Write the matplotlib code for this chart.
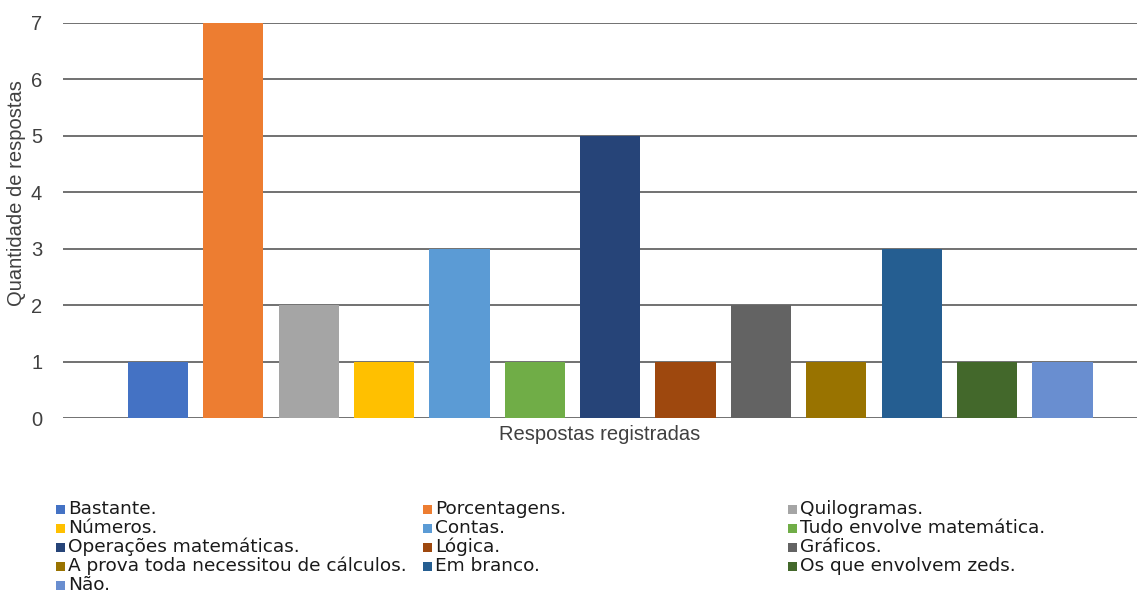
import matplotlib
matplotlib.use("Agg")
import matplotlib.pyplot as plt
from matplotlib.patches import Rectangle

categories = ["Bastante.", "Porcentagens.", "Quilogramas.", "Números.", "Contas.",
              "Tudo envolve matemática.", "Operações matemáticas.", "Lógica.", "Gráficos.",
              "A prova toda necessitou de cálculos.", "Em branco.", "Os que envolvem zeds.", "Não."]
values = [1, 7, 2, 1, 3, 1, 5, 1, 2, 1, 3, 1, 1]
colors = ["#4472C4", "#ED7D31", "#A5A5A5", "#FFC000", "#5B9BD5", "#70AD47", "#264478",
          "#9E480E", "#636363", "#997300", "#255E91", "#43682B", "#698ED0"]
yticks = [0, 1, 2, 3, 4, 5, 6, 7]

plt.rcParams['font.family'] = ['Liberation Sans', 'DejaVu Sans']

W, H = 1139, 605
fig = plt.figure(figsize=(W / 100, H / 100), dpi=100)
ax = fig.add_axes([63 / W, 1 - 418 / H, (1137 - 63) / W, (418 - 23) / H])

x = list(range(len(values)))
ax.bar(x, values, width=0.8, color=colors, zorder=3)

ax.set_ylim(0, 7)
ax.set_xlim(-1.26, 12.99)
ax.set_yticks(yticks)
ax.set_xticks([])
ax.yaxis.grid(True, color="#4a4a4a", linewidth=1.1, zorder=0)
for s in ax.spines.values():
    s.set_visible(False)
ax.tick_params(axis='y', length=0, labelsize=14.5, labelcolor="#404040", pad=15)
ax.set_ylabel("Quantidade de respostas", fontsize=14.5, color="#404040")
ax.yaxis.set_label_coords(-0.034, 0.57)
ax.set_xlabel("Respostas registradas", fontsize=14.5, color="#404040", labelpad=5)

# Legend: three columns filled row by row (Excel style)
col_x = [56, 423, 788]
row_y0, row_dy = 509, 19
msize = 9
for i, (lab, col) in enumerate(zip(categories, colors)):
    r, c = divmod(i, 3)
    xm = col_x[c]
    yc = row_y0 + r * row_dy
    fig.patches.append(Rectangle((xm / W, 1 - (yc + msize / 2) / H), msize / W, msize / H,
                                 transform=fig.transFigure, facecolor=col, edgecolor='none'))
    fig.text((xm + 12) / W, 1 - yc / H, lab, ha='left', va='center',
             family='DejaVu Sans', fontsize=13.3, color="#1a1a1a")

fig.savefig("out.png", dpi=100)
